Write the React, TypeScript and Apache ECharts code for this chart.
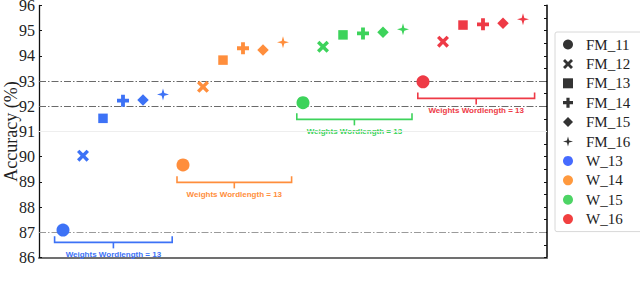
import React, { useEffect, useRef } from "react";
import * as echarts from "echarts";

// ---- data ----
const fmNames = ["FM_11", "FM_12", "FM_13", "FM_14", "FM_15", "FM_16"];
const wNames = ["W_13", "W_14", "W_15", "W_16"];
const accW13 = [87.09, 90.04, 91.52, 92.22, 92.25, 92.47];
const accW14 = [89.67, 92.77, 93.83, 94.3, 94.23, 94.54];
const accW15 = [92.14, 94.36, 94.83, 94.89, 94.93, 95.05];
const accW16 = [92.97, 94.56, 95.22, 95.25, 95.29, 95.45];
const accByW = [accW13, accW14, accW15, accW16];
const yTicks = [86, 87, 88, 89, 90, 91, 92, 93, 94, 95, 96];
const refLinesDark = [93, 92];
const refLinesLight = [87];
const refLinesFaint = [91];
const bracketStart = [-0.42, 5.7, 11.69, 17.74];
const bracketEnd = [5.46, 11.43, 17.45, 23.58];
const bracketLevel = [86.6, 88.98, 91.48, 92.31];
const bracketLabel = "Weights Wordlength = 13";

// ---- styles ----
const markerColors = ["#3D72F6", "#FF8E3C", "#3DD35B", "#EE3A46"];
const legendColors = ["#1846FF", "#FF7F0E", "#20C93F", "#EE1010"];
const fmSymbols = [
  "circle",
  "path://M2,0 L5,3 L8,0 L10,2 L7,5 L10,8 L8,10 L5,7 L2,10 L0,8 L3,5 L0,2 Z",
  "path://M0,0 H10 V10 H0 Z",
  "path://M3.4,0 H6.6 V3.4 H10 V6.6 H6.6 V10 H3.4 V6.6 H0 V3.4 H3.4 Z",
  "path://M5,0 L10,5 L5,10 L0,5 Z",
  "path://M5,0 L6.1,3.9 L10,5 L6.1,6.1 L5,10 L3.9,6.1 L0,5 L3.9,3.9 Z",
];
const fmSizes = [13, 12, 9.5, 12, 11.5, 12];
const serif = "'Liberation Serif', 'DejaVu Serif', serif";

export default function App() {
  const ref = useRef<HTMLDivElement>(null);
  useEffect(() => {
    if (!ref.current) return;
    const chart = echarts.init(ref.current, undefined, { renderer: "svg" });

    const fmSeries: any[] = fmNames.map((name, f) => ({
      name,
      type: "scatter",
      symbol: fmSymbols[f],
      symbolSize: fmSizes[f],
      symbolKeepAspect: true,
      itemStyle: { color: "#333333", opacity: 1 },
      z: 5,
      data: accByW.map((arr, g) => ({
        value: [g * 6 + f, arr[f]],
        itemStyle: { color: markerColors[g] },
      })),
    }));

    const dash = [7, 2, 1.5, 2];
    fmSeries[0].markLine = {
      silent: true,
      symbol: "none",
      label: { show: false },
      animation: false,
      data: [
        ...refLinesDark.map((v) => ({
          yAxis: v,
          lineStyle: { color: "#6a6a6a", width: 1, type: dash },
        })),
        ...refLinesLight.map((v) => ({
          yAxis: v,
          lineStyle: { color: "#9a9a9a", width: 1, type: dash },
        })),
        ...refLinesFaint.map((v) => ({
          yAxis: v,
          lineStyle: { color: "#eeeeee", width: 1, type: "solid" },
        })),
      ],
    };

    const wSeries = wNames.map((name, g) => ({
      name,
      type: "scatter",
      symbol: "circle",
      itemStyle: { color: legendColors[g] },
      data: [],
    }));

    const bracketSeries = {
      type: "custom",
      silent: true,
      clip: false,
      z: 4,
      encode: { x: [0, 1], y: 2 },
      data: bracketStart.map((s, i) => [s, bracketEnd[i], bracketLevel[i], i]),
      renderItem: (params: any, api: any) => {
        const x1 = api.value(0);
        const x2 = api.value(1);
        const y = api.value(2);
        const c = markerColors[api.value(3)];
        const p1 = api.coord([x1, y]);
        const p2 = api.coord([x2, y]);
        const mx = (p1[0] + p2[0]) / 2;
        return {
          type: "group",
          children: [
            {
              type: "polyline",
              shape: {
                points: [
                  [p1[0], p1[1] - 6],
                  [p1[0], p1[1]],
                  [p2[0], p2[1]],
                  [p2[0], p2[1] - 6],
                ],
              },
              style: { stroke: c, lineWidth: 1.6, fill: "none" },
            },
            {
              type: "line",
              shape: { x1: mx, y1: p1[1], x2: mx, y2: p1[1] + 6 },
              style: { stroke: c, lineWidth: 1.6 },
            },
            {
              type: "text",
              x: mx,
              y: p1[1] + 12,
              style: {
                text: bracketLabel,
                fill: c,
                font: "bold 8px 'Liberation Sans', Arial, sans-serif",
                align: "center",
                verticalAlign: "middle",
              },
            },
          ],
        };
      },
    };

    chart.setOption({
      animation: false,
      grid: {
        left: 39,
        right: 93,
        top: 5.4,
        bottom: 32.5,
        containLabel: false,
        outerBoundsMode: "none",
      },
      legend: {
        show: true,
        orient: "vertical",
        left: 555,
        top: 32,
        data: [...fmNames, ...wNames],
        itemWidth: 26,
        itemHeight: 10,
        itemGap: 4.4,
        symbolKeepAspect: true,
        padding: [5, 40, 5, 8],
        borderColor: "#d8d8d8",
        borderWidth: 1,
        borderRadius: 2,
        backgroundColor: "#ffffff",
        textStyle: { fontFamily: serif, fontSize: 15, color: "#222", lineHeight: 15 },
      },
      xAxis: {
        type: "value",
        min: -1.2,
        max: 24.2,
        interval: 0.2,
        axisLabel: { show: false },
        axisTick: { show: false },
        splitLine: { show: false },
        axisLine: { show: true, onZero: false, lineStyle: { color: "#707070", width: 2.2 } },
      },
      yAxis: [
        {
          type: "value",
          min: yTicks[0],
          max: yTicks[yTicks.length - 1],
          interval: 1,
          name: "Accuracy (%)",
          nameLocation: "middle",
          nameGap: 19.5,
          nameMoveOverlap: false,
          nameTextStyle: { fontFamily: serif, fontSize: 18, color: "#222" },
          axisLabel: { fontFamily: serif, fontSize: 16, color: "#222", margin: 4 },
          axisLine: { show: true, onZero: false, lineStyle: { color: "#111", width: 1.3 } },
          axisTick: { show: true, inside: true, length: 3, lineStyle: { color: "#111" } },
          splitLine: { show: false },
        },
        {
          type: "value",
          position: "right",
          min: yTicks[0],
          max: yTicks[yTicks.length - 1],
          interval: 0.5,
          axisLabel: { show: false },
          axisLine: { show: true, onZero: false, lineStyle: { color: "#111", width: 1.6 } },
          axisTick: { show: true, inside: true, length: 3, lineStyle: { color: "#111" } },
          splitLine: { show: false },
        },
      ],
      series: [...fmSeries, ...wSeries, bracketSeries],
    });
    return () => chart.dispose();
  }, []);
  return (
    <div
      ref={ref}
      style={{ position: "fixed", left: 0, top: 0, width: 640, height: 290, background: "#fff" }}
    />
  );
}
